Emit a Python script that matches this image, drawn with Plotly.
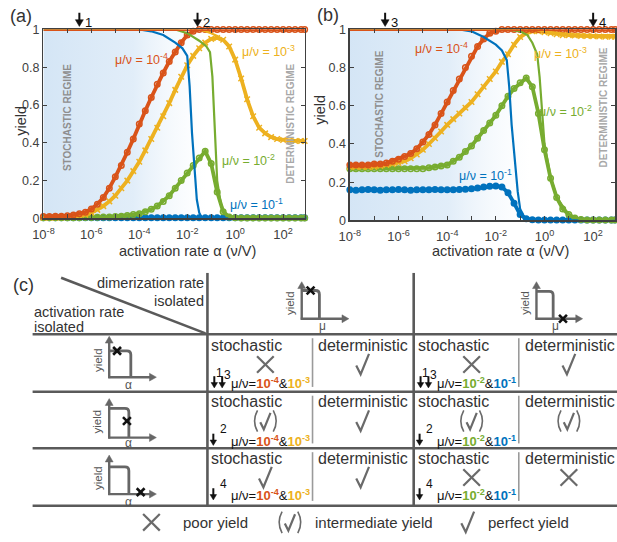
import math
import plotly.graph_objects as go

# ----------------------------- data -----------------------------
alpha_exp = [-8, -7.75, -7.5, -7.25, -7, -6.75, -6.5, -6.25, -6, -5.75, -5.5, -5.25,
             -5, -4.75, -4.5, -4.25, -4, -3.75, -3.5, -3.25, -3, -2.75, -2.5, -2.25,
             -2, -1.75, -1.5, -1.25, -1, -0.75, -0.5, -0.25, 0, 0.25, 0.5, 0.75,
             1, 1.25, 1.5, 1.75, 2, 2.25, 2.5, 2.75, 2.9]

# panel (a): simulation yields
a_sim_red = [0.01, 0.01, 0.011, 0.012, 0.014, 0.018, 0.024, 0.033, 0.05, 0.075, 0.11, 0.16,
             0.22, 0.28, 0.35, 0.42, 0.5, 0.57, 0.64, 0.71, 0.77, 0.83, 0.88, 0.93,
             0.97, 0.99, 1, 1, 1, 1, 1, 1, 1, 1, 1, 1,
             1, 1, 1, 1, 1, 1, 1, 1, 1]
a_sim_yellow = [0.003, 0.003, 0.004, 0.005, 0.007, 0.01, 0.014, 0.02, 0.03, 0.045, 0.065, 0.09,
                0.12, 0.16, 0.2, 0.25, 0.3, 0.36, 0.42, 0.48, 0.54, 0.61, 0.68, 0.75,
                0.81, 0.86, 0.9, 0.93, 0.95, 0.955, 0.945, 0.91, 0.84, 0.74, 0.63, 0.54,
                0.48, 0.45, 0.43, 0.42, 0.415, 0.41, 0.41, 0.41, 0.41]
a_sim_green = [0.003, 0.003, 0.003, 0.003, 0.003, 0.004, 0.004, 0.005, 0.005, 0.006, 0.007, 0.008,
               0.01, 0.012, 0.015, 0.02, 0.025, 0.035, 0.048, 0.065, 0.09, 0.12, 0.16, 0.2,
               0.24, 0.28, 0.32, 0.355, 0.29, 0.14, 0.035, 0.008, 0.003, 0.002, 0.002, 0.002,
               0.002, 0.002, 0.002, 0.002, 0.002, 0.002, 0.002, 0.002, 0.002]
a_sim_blue = [0.004, 0.004, 0.004, 0.004, 0.004, 0.004, 0.004, 0.004, 0.004, 0.004, 0.004, 0.004,
              0.004, 0.004, 0.004, 0.004, 0.004, 0.004, 0.004, 0.004, 0.004, 0.004, 0.004, 0.004,
              0.004, 0.004, 0.004, 0.004, 0.003, 0.003, 0.003, 0.003, 0.003, 0.003, 0.003, 0.003,
              0.003, 0.003, 0.003, 0.003, 0.003, 0.003, 0.003, 0.003, 0.003]

# panel (a): theory curves
a_line_red_x = [-8, 2.9]
a_line_red_y = [1, 1]
a_line_yellow_x = [-8, -1.5, -1.25, -1, -0.75, -0.5, -0.25, 0, 0.25, 0.5, 0.75, 1, 1.5, 2, 2.9]
a_line_yellow_y = [1, 1, 0.99, 0.98, 0.965, 0.945, 0.91, 0.84, 0.74, 0.63, 0.54, 0.48, 0.43, 0.415, 0.41]
a_line_green_x = [-8, -2.5, -2, -1.5, -1.2, -1.05, -0.95, -0.85, -0.75, -0.6, -0.45, -0.25, 0, 2.9]
a_line_green_y = [1, 1, 0.98, 0.94, 0.91, 0.88, 0.75, 0.45, 0.2, 0.08, 0.03, 0.008, 0.002, 0]
a_line_blue_x = [-8, -4, -3.5, -3, -2.5, -2.2, -2, -1.9, -1.8, -1.7, -1.6, -1.5, -1.4, -1.2, 2.9]
a_line_blue_y = [1, 1, 0.99, 0.97, 0.93, 0.9, 0.86, 0.7, 0.45, 0.25, 0.1, 0.03, 0.005, 0, 0]

# panel (b): simulation yields
b_sim_red = [0.29, 0.29, 0.29, 0.29, 0.295, 0.295, 0.3, 0.31, 0.32, 0.335, 0.35, 0.375,
             0.41, 0.45, 0.5, 0.56, 0.62, 0.68, 0.74, 0.8, 0.86, 0.91, 0.95, 0.98,
             0.99, 1, 1, 1, 1, 1, 1, 1, 1, 1, 1, 1,
             1, 1, 1, 1, 1, 1, 1, 1, 1]
b_sim_yellow = [0.28, 0.28, 0.28, 0.28, 0.28, 0.285, 0.29, 0.295, 0.3, 0.31, 0.325, 0.345,
                0.37, 0.4, 0.43, 0.465, 0.5, 0.53, 0.56, 0.59, 0.62, 0.66, 0.7, 0.74,
                0.78, 0.83, 0.87, 0.92, 0.96, 0.98, 0.99, 0.99, 0.985, 0.98, 0.975, 0.97,
                0.97, 0.968, 0.966, 0.965, 0.964, 0.963, 0.962, 0.962, 0.962]
b_sim_green = [0.27, 0.27, 0.27, 0.27, 0.27, 0.27, 0.27, 0.27, 0.27, 0.27, 0.27, 0.27,
               0.27, 0.275, 0.28, 0.285, 0.29, 0.31, 0.33, 0.36, 0.39, 0.43, 0.47, 0.51,
               0.55, 0.6, 0.65, 0.69, 0.72, 0.745, 0.7, 0.56, 0.37, 0.22, 0.12, 0.06,
               0.03, 0.012, 0.005, 0.002, 0.002, 0.002, 0.002, 0.002, 0.002]
b_sim_blue = [0.16, 0.158, 0.16, 0.162, 0.16, 0.158, 0.16, 0.16, 0.162, 0.16, 0.158, 0.16,
              0.16, 0.16, 0.162, 0.16, 0.16, 0.16, 0.162, 0.163, 0.165, 0.17, 0.175, 0.178,
              0.18, 0.175, 0.145, 0.09, 0.03, 0.008, 0.003, 0.002, 0.002, 0.002, 0.002, 0.002,
              0.002, 0.002, 0.002, 0.002, 0.002, 0.002, 0.002, 0.002, 0.002]

# panel (b): theory curves
b_line_red_x = [-8, 2.9]
b_line_red_y = [1, 1]
b_line_yellow_x = [-8, -0.5, 0, 1, 2, 2.9]
b_line_yellow_y = [1, 1, 0.99, 0.975, 0.97, 0.97]
b_line_green_x = [-8, -1.5, -1, -0.7, -0.5, -0.3, -0.2, -0.1, 0, 0.25, 0.5, 1, 1.5, 2.9]
b_line_green_y = [1, 1, 0.99, 0.97, 0.93, 0.87, 0.75, 0.58, 0.4, 0.23, 0.12, 0.03, 0.005, 0]
b_line_blue_x = [-8, -3.5, -3, -2.5, -2, -1.75, -1.55, -1.45, -1.35, -1.2, -1.1, -1.0, -0.8, -0.6, 2.9]
b_line_blue_y = [1, 1, 0.99, 0.96, 0.92, 0.89, 0.84, 0.7, 0.5, 0.27, 0.15, 0.06, 0.01, 0, 0]

# stochastic-regime extent (log10 alpha) and marked alpha values (log10)
a_stoch_edge = -1.2
b_stoch_edge = -0.6
a_arrow_alpha = [-6.5, -1.57]
a_arrow_labels = ['1', '2']
b_arrow_alpha = [-6.55, 2.0]
b_arrow_labels = ['3', '4']

ratio_labels = ['10<sup>-4</sup>', '10<sup>-3</sup>', '10<sup>-2</sup>', '10<sup>-1</sup>']

x_tick_exp = [-8, -6, -4, -2, 0, 2]
x_minor_exp = [-7, -5, -3, -1, 1]
y_tick_vals = [0, 0.2, 0.4, 0.6, 0.8, 1]
y_tick_text = ['0', '0.2', '0.4', '0.6', '0.8', '1']

# table (c)
row_arrow_labels = [['1', '3'], ['2'], ['4']]
col_ratio_idx = [[0, 1], [2, 3]]
stochastic_yield = [['poor', 'poor'], ['intermediate', 'intermediate'], ['perfect', 'poor']]
deterministic_yield = [['perfect', 'perfect'], ['perfect', 'intermediate'], ['perfect', 'poor']]
legend_kinds = ['poor', 'intermediate', 'perfect']
legend_labels = ['poor yield', 'intermediate yield', 'perfect yield']

# ----------------------------- style -----------------------------
W, H = 617, 542
FONT = "Liberation Sans, Arial, Helvetica, sans-serif"
RED, YEL, GRN, BLU = '#D95319', '#EDB120', '#77AC30', '#0072BD'
SERIES_COL = [RED, YEL, GRN, BLU]
AXC = '#404040'
TXT = '#333333'
TBL = '#5a5a5a'
SYM = '#6a6a6a'

shapes = []
annotations = []


def X(px):
    return px / W


def Y(py):
    return 1 - py / H


def line(x0, y0, x1, y1, width=2.6, color=TBL):
    shapes.append(dict(type='line', xref='paper', yref='paper', x0=X(x0), y0=Y(y0), x1=X(x1), y1=Y(y1),
                       line=dict(color=color, width=width), layer='above'))


def path(cmds, width, color, fill=None):
    parts = []
    for op, *pts in cmds:
        parts.append(op + ' ' + ' '.join(f'{X(a):.5f},{Y(b):.5f}' for a, b in pts))
    shapes.append(dict(type='path', xref='paper', yref='paper', path=' '.join(parts),
                       line=dict(color=color, width=width),
                       fillcolor=fill if fill else 'rgba(0,0,0,0)', layer='above'))


def arrow(x_tail, y_tail, x_tip, y_tip, width=2, color='#111111', head_len=6, head_w=3.6):
    dx, dy = x_tip - x_tail, y_tip - y_tail
    L = math.hypot(dx, dy)
    ux, uy = dx / L, dy / L
    bx, by = x_tip - ux * head_len, y_tip - uy * head_len
    line(x_tail, y_tail, bx + ux * 1, by + uy * 1, width, color)
    px_, py_ = -uy * head_w, ux * head_w
    path([('M', (x_tip, y_tip)), ('L', (bx + px_, by + py_)), ('L', (bx - px_, by - py_)), ('Z',)],
         0.5, color, fill=color)


def data_arrow(xref, xval, y_tail, y_tip, width=2, color='#111111', head_len=7, head_w=4):
    # vertical arrow anchored at a data x position (pixel-sized horizontally)
    base = y_tip - head_len
    shapes.append(dict(type='path', xref=xref, yref='paper', xsizemode='pixel', xanchor=xval,
                       path=f'M 0,{Y(y_tail):.5f} L 0,{Y(base + 1):.5f}',
                       line=dict(color=color, width=width), layer='above'))
    shapes.append(dict(type='path', xref=xref, yref='paper', xsizemode='pixel', xanchor=xval,
                       path=f'M 0,{Y(y_tip):.5f} L {-head_w},{Y(base):.5f} L {head_w},{Y(base):.5f} Z',
                       line=dict(color=color, width=0.5), fillcolor=color, layer='above'))


def text(x, y, s, size=14, color=TXT, xanchor='center', angle=0, bold=False):
    if bold:
        s = '<b>' + s + '</b>'
    annotations.append(dict(x=X(x), y=Y(y), xref='paper', yref='paper', text=s, showarrow=False,
                            font=dict(size=size, color=color, family=FONT), xanchor=xanchor,
                            yanchor='middle', textangle=angle, borderpad=0))


def cross(cx, cy, s=8.5, w=2.2, color=SYM):
    line(cx - s, cy - s, cx + s, cy + s, w, color)
    line(cx - s, cy + s, cx + s, cy - s, w, color)


def check(cx, cy, sc=1.0, w=2.2, color=SYM):
    path([('M', (cx - 6.5 * sc, cy + 1 * sc)), ('L', (cx - 2 * sc, cy + 10 * sc)),
          ('L', (cx + 6.5 * sc, cy - 11 * sc))], w, color)


def intermediate(cx, cy):
    check(cx, cy + 0.5, 0.8)
    path([('M', (cx - 8, cy - 11)), ('Q', (cx - 14, cy), (cx - 8, cy + 11))], 1.6, SYM)
    path([('M', (cx + 8, cy - 11)), ('Q', (cx + 14, cy), (cx + 8, cy + 11))], 1.6, SYM)


SYMBOL = {'poor': cross, 'intermediate': intermediate, 'perfect': check}


def icon(ax0, top, bottom, right, plateau, drop, mark, label, label_pos, yield_x):
    col = '#666666'
    arrow(ax0, bottom + 1, ax0, top, 2.4, col, head_len=7, head_w=4)
    arrow(ax0 - 1, bottom, right, bottom, 2.4, col, head_len=7, head_w=4)
    r = 4
    path([('M', (ax0, plateau)), ('L', (drop - r, plateau)), ('Q', (drop, plateau), (drop, plateau + r)),
          ('L', (drop, bottom))], 2.8, col)
    mx, my = mark
    line(mx - 4, my - 4, mx + 4, my + 4, 2.6, '#111111')
    line(mx - 4, my + 4, mx + 4, my - 4, 2.6, '#111111')
    text(label_pos[0], label_pos[1], label, 12, '#555555')
    text(yield_x, (top + bottom) / 2 + 3, 'yield', 11.5, '#555555', angle=-90)


# ----------------------------- figure -----------------------------
fig = go.Figure()
alpha = [10 ** e for e in alpha_exp]

panels = [
    ('x', 'y', a_stoch_edge,
     [a_sim_blue, a_sim_green, a_sim_yellow, a_sim_red],
     [(a_line_blue_x, a_line_blue_y), (a_line_green_x, a_line_green_y),
      (a_line_yellow_x, a_line_yellow_y), (a_line_red_x, a_line_red_y)]),
    ('x2', 'y2', b_stoch_edge,
     [b_sim_blue, b_sim_green, b_sim_yellow, b_sim_red],
     [(b_line_blue_x, b_line_blue_y), (b_line_green_x, b_line_green_y),
      (b_line_yellow_x, b_line_yellow_y), (b_line_red_x, b_line_red_y)]),
]
order_cols = [BLU, GRN, YEL, RED]
order_syms = ['circle', 'circle-open', 'x-thin-open', 'circle-open']

for xa, ya, edge, sims, lines in panels:
    fig.add_trace(go.Scatter(x=[10 ** alpha_exp[0], 10 ** edge], y=[1, 1], xaxis=xa, yaxis=ya,
                             mode='none', fill='tozeroy',
                             fillgradient=dict(type='horizontal',
                                               colorscale=[[0, 'rgba(210,228,245,0.95)'],
                                                           [0.55, 'rgba(218,233,247,0.8)'],
                                                           [1, 'rgba(240,246,252,0.0)']]),
                             hoverinfo='skip', showlegend=False))
    for ys, c, sym in zip(sims, order_cols, order_syms):
        fig.add_trace(go.Scatter(x=alpha, y=ys, xaxis=xa, yaxis=ya, mode='lines+markers',
                                 line=dict(color=c, width=3.8),
                                 marker=dict(symbol=sym, size=5.5, color=c, line=dict(width=1.5, color=c)),
                                 cliponaxis=False, hoverinfo='skip', showlegend=False))
    for (lx, ly), c in zip(lines, order_cols):
        fig.add_trace(go.Scatter(x=[10 ** e for e in lx], y=ly, xaxis=xa, yaxis=ya, mode='lines',
                                 line=dict(color=c, width=2.2 if c != RED else 3),
                                 cliponaxis=False, hoverinfo='skip', showlegend=False))

x_tick_text = [f'10<sup>{e}</sup>' for e in x_tick_exp]
common_x = dict(type='log', range=[-8, 2.9], tickvals=[10 ** e for e in x_tick_exp], ticktext=x_tick_text,
                ticks='inside', ticklen=4, tickwidth=1, tickcolor=AXC, showline=True, linecolor=AXC,
                linewidth=1.5, mirror='ticks', showgrid=False, zeroline=False, ticklabelstandoff=4,
                minor=dict(tickvals=[10 ** e for e in x_minor_exp], ticks='inside', ticklen=4,
                           tickwidth=1, tickcolor=AXC, showgrid=False),
                tickfont=dict(size=13, color=AXC, family=FONT))
common_y = dict(range=[0, 1], tickvals=y_tick_vals, ticktext=y_tick_text, ticks='inside', ticklen=4,
                tickwidth=1, tickcolor=AXC, showline=True, linecolor=AXC, linewidth=1.5, mirror='ticks',
                showgrid=False, zeroline=False, tickfont=dict(size=12.5, color=AXC, family=FONT))

fig.update_layout(
    xaxis=dict(common_x, domain=[X(33), X(299)], anchor='y'),
    yaxis=dict(common_y, domain=[Y(217), Y(23)], anchor='x'),
    xaxis2=dict(common_x, domain=[X(345), X(615)], anchor='y2'),
    yaxis2=dict(common_y, domain=[Y(219), Y(23)], anchor='x2'),
)

# ---- panel texts ----
text(10, 9, '(a)', 18, TXT)
text(323, 8, '(b)', 18, TXT)
text(10, 117, 'yield', 14.5, TXT, angle=-90)
text(315, 105, 'yield', 14.5, TXT, angle=-90)
text(180, 250, 'activation rate α (ν/V)', 14.5, TXT)
text(498, 250, 'activation rate α (ν/V)', 14.5, TXT)
text(57, 113, 'STOCHASTIC REGIME', 10, '#8f8f8f', angle=-90, bold=True)
text(285, 120, 'DETERMINISTIC REGIME', 10, '#a8a8a8', angle=-90, bold=True)
text(375, 100, 'STOCHASTIC REGIME', 10, '#8f8f8f', angle=-90, bold=True)
text(603, 103, 'DETERMINISTIC REGIME', 10, '#a8a8a8', angle=-90, bold=True)

# mu/nu labels placed on data coordinates (log10 alpha, yield)
mu_pos_a = [(-3.9, 0.845), (1.39, 0.887), (0.57, 0.31), (0.9, 0.077)]
mu_pos_b = [(-4.25, 0.903), (0.67, 0.878), (0.87, 0.571), (-2.44, 0.235)]
for (xa, ya), pos in [(('x', 'y'), mu_pos_a), (('x2', 'y2'), mu_pos_b)]:
    for lab, c, (px_, py_) in zip(ratio_labels, SERIES_COL, pos):
        annotations.append(dict(x=px_, y=py_, xref=xa, yref=ya, text='μ/ν = ' + lab, showarrow=False,
                                font=dict(size=12.5, color=c, family=FONT)))

# arrows (and their labels) above the panels marking chosen activation rates
for xa, vals, labs in [('x', a_arrow_alpha, a_arrow_labels), ('x2', b_arrow_alpha, b_arrow_labels)]:
    for v, lab in zip(vals, labs):
        data_arrow(xa, 10 ** v, 6, 20)
        annotations.append(dict(x=v, y=Y(6), xref=xa, yref='paper', text=lab, showarrow=False,
                                xshift=9, font=dict(size=13, color='#111111', family=FONT)))

# ---- table (c) ----
text(13, 285, '(c)', 18, TXT)
line(51, 278, 198, 335)
text(198, 283, 'dimerization rate', 14.5, TXT, xanchor='right')
text(198, 302, 'isolated', 14.5, TXT, xanchor='right')
text(22, 313, 'activation rate', 14.5, TXT, xanchor='left')
text(22, 328, 'isolated', 14.5, TXT, xanchor='left')

row_top = [336, 395, 453]
row_bot = [395, 453, 512]
col_left = [200, 410]
for yy in row_top + [row_bot[-1]]:
    line(22, yy, 617, yy)
for xx in col_left:
    line(xx, 273, xx, 512)

# header icons
icon(296, 282, 320, 344, 291, 314, (305, 291), 'μ', (317, 327), 284)
icon(535, 282, 320, 582, 292, 552, (562, 320), 'μ', (554, 327), 523)
# row icons
icon(100, 338, 380, 148, 353, 122, (108, 353), 'α', (120, 388), 88)
icon(100, 402, 442, 148, 412, 120, (118, 425), 'α', (120, 448), 88)
icon(100, 460, 500, 148, 472, 120, (132, 498), 'α', (120, 508), 88)

word_y = [347, 405, 463]
sym_y = [367, 425, 483]
ratio_y = [386, 445, 501]
sup_y = [376, 433, 490]
for r in range(3):
    for c in range(2):
        cl = col_left[c]
        text(cl + 3, word_y[r], 'stochastic', 16, TXT, xanchor='left')
        text(cl + 112, word_y[r], 'deterministic', 16, TXT, xanchor='left')
        line(cl + 107, row_top[r] + 4, cl + 107, row_bot[r] - 5, 1.6, '#9a9a9a')
        SYMBOL[stochastic_yield[r][c]](cl + 59, sym_y[r])
        SYMBOL[deterministic_yield[r][c]](cl + 158, sym_y[r])
        labs = row_arrow_labels[r]
        for k, lab in enumerate(labs):
            ax_ = cl + (7 + 8 * k if len(labs) > 1 else 6)
            arrow(ax_, ratio_y[r] - 7, ax_, ratio_y[r] + 5, 2, '#111111', head_len=5.5, head_w=3.3)
            text(ax_ + (5 if len(labs) > 1 else 10), sup_y[r] + 2 * k, lab, 12, '#111111')
        i1, i2 = col_ratio_idx[c]
        s = ('μ/ν=<b><span style="color:%s">%s</span></b>&amp;<b><span style="color:%s">%s</span></b>'
             % (SERIES_COL[i1], ratio_labels[i1], SERIES_COL[i2], ratio_labels[i2]))
        text(cl + 23, ratio_y[r], s, 13, '#111111', xanchor='left')

# legend row
leg_sym_x = [143, 284, 465]
leg_txt_x = [174, 309, 485]
for kind, lab, sx, tx in zip(legend_kinds, legend_labels, leg_sym_x, leg_txt_x):
    SYMBOL[kind](sx, 529)
    text(tx, 529, lab, 15, TXT, xanchor='left')

fig.update_layout(width=W, height=H, margin=dict(l=0, r=0, t=0, b=0), autosize=False,
                  paper_bgcolor='white', plot_bgcolor='white', showlegend=False, hovermode=False,
                  font=dict(family=FONT, color=TXT), shapes=shapes, annotations=annotations)

fig.write_html("out.html", config={'displayModeBar': False, 'staticPlot': True},
               post_script="document.body.style.margin='0px';document.body.style.padding='0px';"
                           "document.body.style.overflow='hidden';")
